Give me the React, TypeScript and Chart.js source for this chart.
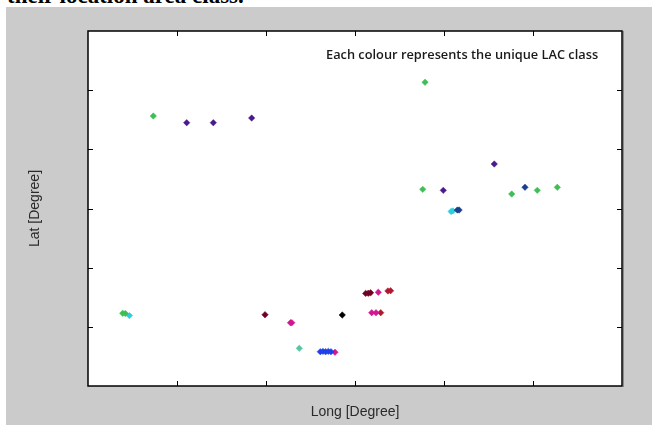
import React, { useEffect, useRef } from "react";
import { Chart, registerables } from "chart.js";

Chart.register(...registerables);

// Axis range / tick positions (no labels are printed in the reference)
const axisMin = 0;
const axisMax = 6;
const tickValues = [1, 2, 3, 4, 5];

const xTitle = "Long [Degree]";
const yTitle = "Lat [Degree]";
const noteText = "Each colour represents the unique LAC class";
const captionText = "their location area class.";

// Each LAC class (colour) as its own small series
const greenX = [0.734, 3.787, 3.761, 4.761, 5.048, 5.273, 0.39, 0.42];
const greenY = [4.563, 5.133, 3.324, 3.245, 3.307, 3.358, 1.229, 1.225];

const indigoX = [1.109, 1.408, 1.839, 4.565, 3.992];
const indigoY = [4.45, 4.45, 4.529, 3.752, 3.307];

const navyX = [4.91, 4.15, 4.17];
const navyY = [3.358, 2.974, 2.974];

const cyanX = [4.08, 4.1, 0.465];
const cyanY = [2.95, 2.96, 1.19];

const tealX = [2.374];
const tealY = [0.637];

const blueX = [2.61, 2.64, 2.67, 2.7, 2.73];
const blueY = [0.58, 0.585, 0.58, 0.585, 0.58];

const magentaX = [2.275, 2.29, 2.775, 3.262, 3.188, 3.236];
const magentaY = [1.07, 1.07, 0.57, 1.584, 1.239, 1.239];

const darkRedX = [1.989, 3.12, 3.149, 3.175];
const darkRedY = [1.205, 1.565, 1.567, 1.575];

const redX = [3.37, 3.4, 3.289];
const redY = [1.606, 1.61, 1.239];

const blackX = [2.857];
const blackY = [1.2];

const classes = [
  { name: "green", xs: greenX, ys: greenY, color: "#3dbf55" },
  { name: "indigo", xs: indigoX, ys: indigoY, color: "#4a1a8c" },
  { name: "navy", xs: navyX, ys: navyY, color: "#1b3f8f" },
  { name: "cyan", xs: cyanX, ys: cyanY, color: "#27d0dc" },
  { name: "teal", xs: tealX, ys: tealY, color: "#55c8a0" },
  { name: "blue", xs: blueX, ys: blueY, color: "#2040e8" },
  { name: "magenta", xs: magentaX, ys: magentaY, color: "#d01890" },
  { name: "darkred", xs: darkRedX, ys: darkRedY, color: "#700020" },
  { name: "red", xs: redX, ys: redY, color: "#b01830" },
  { name: "black", xs: blackX, ys: blackY, color: "#000000" },
];

const framePlugin = {
  id: "frame",
  beforeDraw(chart: any) {
    const { ctx, chartArea: a } = chart;
    ctx.save();
    ctx.fillStyle = "#ffffff";
    ctx.fillRect(a.left, a.top, a.right - a.left, a.bottom - a.top);
    ctx.restore();
  },
  afterDraw(chart: any) {
    const { ctx, chartArea: a, scales } = chart;
    const xs = scales.x;
    const ys = scales.y;
    ctx.save();
    // shadow on right edge
    ctx.strokeStyle = "#8a8a8a";
    ctx.lineWidth = 1;
    ctx.beginPath();
    ctx.moveTo(a.right + 1.5, a.top);
    ctx.lineTo(a.right + 1.5, a.bottom + 1);
    ctx.stroke();
    // frame
    ctx.strokeStyle = "#000000";
    ctx.lineWidth = 1.5;
    ctx.strokeRect(a.left, a.top, a.right - a.left, a.bottom - a.top);
    // inward ticks on four sides
    const len = 5;
    ctx.lineWidth = 1;
    ctx.beginPath();
    tickValues.forEach((v) => {
      const px = Math.round(xs.getPixelForValue(v)) + 0.5;
      ctx.moveTo(px, a.bottom);
      ctx.lineTo(px, a.bottom - len);
      ctx.moveTo(px, a.top);
      ctx.lineTo(px, a.top + len);
      const py = Math.round(ys.getPixelForValue(v)) + 0.5;
      ctx.moveTo(a.left, py);
      ctx.lineTo(a.left + len, py);
      ctx.moveTo(a.right, py);
      ctx.lineTo(a.right - len, py);
    });
    ctx.stroke();
    // annotation
    ctx.fillStyle = "#1a1a1a";
    ctx.font = "600 12.8px 'Open Sans'";
    ctx.textAlign = "left";
    ctx.textBaseline = "middle";
    ctx.fillText(noteText, xs.getPixelForValue(2.674), ys.getPixelForValue(5.594));
    ctx.restore();
  },
};

export default function App() {
  const ref = useRef<HTMLCanvasElement | null>(null);

  useEffect(() => {
    if (!ref.current) return;
    const chart = new Chart(ref.current, {
      type: "scatter",
      data: {
        datasets: classes.map((c) => ({
          label: c.name,
          data: c.xs.map((x, i) => ({ x, y: c.ys[i] })),
          backgroundColor: c.color,
          borderColor: c.color,
          pointStyle: "rectRot",
          pointRadius: 3.2,
          borderWidth: 0.5,
        })),
      },
      options: {
        animation: false,
        responsive: false,
        layout: { padding: { left: 27, top: 31, right: 30, bottom: 0 } },
        plugins: { legend: { display: false }, tooltip: { enabled: false } },
        scales: {
          x: {
            type: "linear",
            min: axisMin,
            max: axisMax,
            ticks: { display: false, stepSize: 1 },
            grid: { display: false, drawTicks: false },
            border: { display: false },
            title: {
              display: true,
              text: xTitle,
              color: "#2a2a2a",
              font: { family: "Liberation Sans", size: 14 },
              padding: { top: 0, bottom: 4.6 },
            },
            afterFit: (s: any) => {
              s.height = 39;
            },
          },
          y: {
            type: "linear",
            min: axisMin,
            max: axisMax,
            ticks: { display: false, stepSize: 1 },
            grid: { display: false, drawTicks: false },
            border: { display: false },
            title: {
              display: true,
              text: yTitle,
              color: "#2a2a2a",
              font: { family: "Liberation Sans", size: 14 },
              padding: { top: 0, bottom: 0 },
            },
            afterFit: (s: any) => {
              s.width = 61;
            },
          },
        },
      },
      plugins: [framePlugin],
    } as any);
    return () => chart.destroy();
  }, []);

  return (
    <div
      style={{
        position: "absolute",
        left: 0,
        top: 0,
        width: 652,
        height: 425,
        background: "#ffffff",
        overflow: "hidden",
      }}
    >
      <div
        style={{
          position: "absolute",
          left: 7,
          top: -16,
          font: "bold 23px 'Liberation Serif'",
          lineHeight: "23px",
          whiteSpace: "nowrap",
          color: "#000",
        }}
      >
        {captionText}
      </div>
      <div
        style={{
          position: "absolute",
          left: 6,
          top: 7,
          right: 0,
          bottom: 0,
          background: "#cbcbcb",
        }}
      />
      <canvas
        ref={ref}
        width={652}
        height={425}
        style={{ position: "absolute", left: 0, top: 0, width: 652, height: 425 }}
      />
    </div>
  );
}
